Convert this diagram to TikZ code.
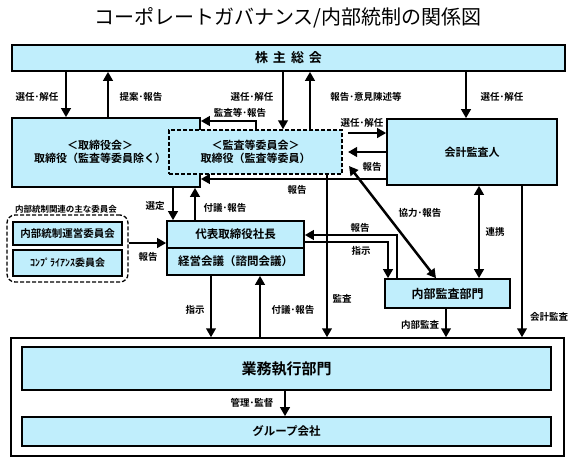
\documentclass[tikz,border=0pt]{standalone}
\usepackage{fontspec}
\setmainfont{Noto Sans CJK JP}[BoldFont={Noto Sans CJK JP Bold}]
\usetikzlibrary{arrows.meta}
\definecolor{boxblue}{RGB}{192,238,252}

\begin{document}
\begin{tikzpicture}[x=1pt,y=-1pt,
    box/.style={draw, line width=1.6pt, fill=boxblue, inner sep=0pt, align=center,
        font=\bfseries\fontsize{11}{13.5}\selectfont},
    dashbox/.style={line width=1.3pt, dash pattern=on 4pt off 2pt},
    arr/.style={line width=2.5pt, -{Triangle[length=9pt,width=9.5pt]}},
    darr/.style={line width=2.5pt, {Triangle[length=9pt,width=9.5pt]}-{Triangle[length=9pt,width=9.5pt]}},
    lbl/.style={inner sep=1pt, font=\bfseries\fontsize{9.5}{11}\selectfont}]

    \useasboundingbox (0,0) rectangle (575,461);

    \node[font=\fontsize{20}{22}\selectfont] (title) at (288,18) {コーポレートガバナンス/内部統制の関係図};

    % boxes
    \node[box, minimum width=553, minimum height=26, font=\bfseries\fontsize{13}{15}\selectfont] (soukai) at (288.5,58)
        {株\hspace{5pt}主\hspace{5pt}総\hspace{5pt}会};
    \node[box, minimum width=188, minimum height=69] (torishimari) at (106,152.5) {};
    \node[box, font=\bfseries\fontsize{11}{13.5}\selectfont, draw=none, fill=none] (torishimariText) at (100,152)
        {＜取締役会＞\\取締役（監査等委員除く）};
    \node[box, dashbox, minimum width=173, minimum height=44] (kansa) at (255.5,152)
        {＜監査等委員会＞\\取締役（監査等委員）};
    \node[box, minimum width=170, minimum height=66] (kaikei) at (472,152) {会計監査人};
    \node[box, minimum width=137, minimum height=27, font=\bfseries\fontsize{11.5}{13}\selectfont] (shachoTop) at (235.5,234.5)
        {代表取締役社長};
    \node[box, minimum width=137, minimum height=27, font=\bfseries\fontsize{11.5}{13}\selectfont] (shachoBot) at (235.5,261.5)
        {経営会議（諮問会議）};

    \node[font=\bfseries\fontsize{8.5}{10}\selectfont] (iinkaiTitle) at (66,209) {内部統制関連の主な委員会};
    \node[draw, dashbox, rounded corners=8pt, minimum width=121, minimum height=67] (iinkai) at (67.5,248.5) {};
    \node[box, minimum width=109, minimum height=23, font=\bfseries\fontsize{10.5}{12}\selectfont] (unei) at (67.5,233.5)
        {内部統制運営委員会};
    \node[box, minimum width=109, minimum height=26, font=\bfseries\fontsize{10}{12}\selectfont] (comp) at (67.5,263)
        {ｺﾝﾌﾟﾗｲｱﾝｽ委員会};

    \node[box, minimum width=125, minimum height=29, font=\bfseries\fontsize{12}{14}\selectfont] (naibu) at (447.5,293.5) {内部監査部門};

    \node[draw, line width=1.4pt, fill=white, minimum width=553, minimum height=118] (outer) at (287.5,397) {};
    \node[box, minimum width=529, minimum height=43, font=\bfseries\fontsize{15}{17}\selectfont] (gyomu) at (286.5,368.5) {業務執行部門};
    \node[box, minimum width=529, minimum height=29, font=\bfseries\fontsize{11.5}{13}\selectfont] (group) at (286.5,431.5) {グループ会社};

    \coordinate (kansaOut) at (348,133);
    \coordinate (kansaIn) at (348,152);
    \coordinate (kyoryoku) at (349,166);

    % connectors
    \draw[arr] (66,0 |- soukai.south) -- (66,0 |- torishimari.north);
    \draw[arr] (108,0 |- torishimari.north) -- (108,0 |- soukai.south);
    \draw[arr] (283,0 |- soukai.south) -- (283,0 |- kansa.north);
    \draw[arr] (310,0 |- kansa.north) -- (310,0 |- soukai.south);
    \draw[arr] (466,0 |- soukai.south) -- (466,0 |- kaikei.north);
    \draw[arr] (256,0 |- kansa.north) -- (256,121) -- (torishimari.east |- 0,121);
    \draw[arr] (kansaOut) -- (kaikei.west |- kansaOut);
    \draw[arr] (kaikei.west |- kansaIn) -- (kansaIn);
    \draw[arr] (kaikei.west |- 0,179) -- (torishimari.east |- 0,179);
    \draw[darr] (kyoryoku) -- (436,0 |- naibu.north);
    \draw[darr] (479,0 |- kaikei.south) -- (479,0 |- naibu.north);
    \draw[arr] (522,0 |- kaikei.south) -- (522,0 |- outer.north);
    \draw[arr] (173,0 |- torishimari.south) -- (173,0 |- shachoTop.north);
    \draw[arr] (195,0 |- shachoTop.north) -- (195,0 |- torishimari.south);
    \draw[arr] (327,0 |- kansa.south) -- (327,0 |- outer.north);
    \draw[arr] (iinkai.east |- 0,243) -- (shachoTop.west |- 0,243);
    \draw[arr] (397,0 |- naibu.north) -- (397,235) -- (shachoTop.east |- 0,235);
    \draw[arr] (shachoTop.east |- 0,242) -- (388,242) -- (388,0 |- naibu.north);
    \draw[arr] (211,0 |- shachoBot.south) -- (211,0 |- outer.north);
    \draw[arr] (260,0 |- outer.north) -- (260,0 |- shachoBot.south);
    \draw[arr] (446,0 |- naibu.south) -- (446,0 |- outer.north);
    \draw[arr] (285,0 |- gyomu.south) -- (285,0 |- group.north);

    % labels
    \node[lbl] (lblSoukaiA) at (37,97) {選任･解任};
    \node[lbl] (lblSoukaiB) at (141,97) {提案･報告};
    \node[lbl] (lblSoukaiC) at (252,97) {選任･解任};
    \node[lbl] (lblSoukaiD) at (366,97) {報告･意見陳述等};
    \node[lbl] (lblSoukaiE) at (502,97) {選任･解任};
    \node[lbl] (lblKansaA) at (240,113) {監査等･報告};
    \node[lbl] (lblKaikeiA) at (362,123) {選任･解任};
    \node[lbl] (lblKaikeiB) at (372,167) {報告};
    \node[lbl] (lblKaikeiC) at (297,190) {報告};
    \node[lbl] (lblKyoryoku) at (420,213) {協力･報告};
    \node[lbl] (lblRenkei) at (495,232) {連携};
    \node[lbl] (lblKaikeiD) at (549,317) {会計監査};
    \node[lbl] (lblSentei) at (155,206) {選定};
    \node[lbl] (lblFugiA) at (225,208) {付議･報告};
    \node[lbl] (lblKansaB) at (342,299) {監査};
    \node[lbl] (lblIinkai) at (148,257) {報告};
    \node[lbl] (lblNaibuA) at (360,228) {報告};
    \node[lbl] (lblNaibuB) at (361,251) {指示};
    \node[lbl] (lblShiji) at (195,310) {指示};
    \node[lbl] (lblFugiB) at (293,310) {付議･報告};
    \node[lbl] (lblNaibuC) at (420,325) {内部監査};
    \node[lbl] (lblKanri) at (252,403) {管理･監督};
\end{tikzpicture}
\end{document}
